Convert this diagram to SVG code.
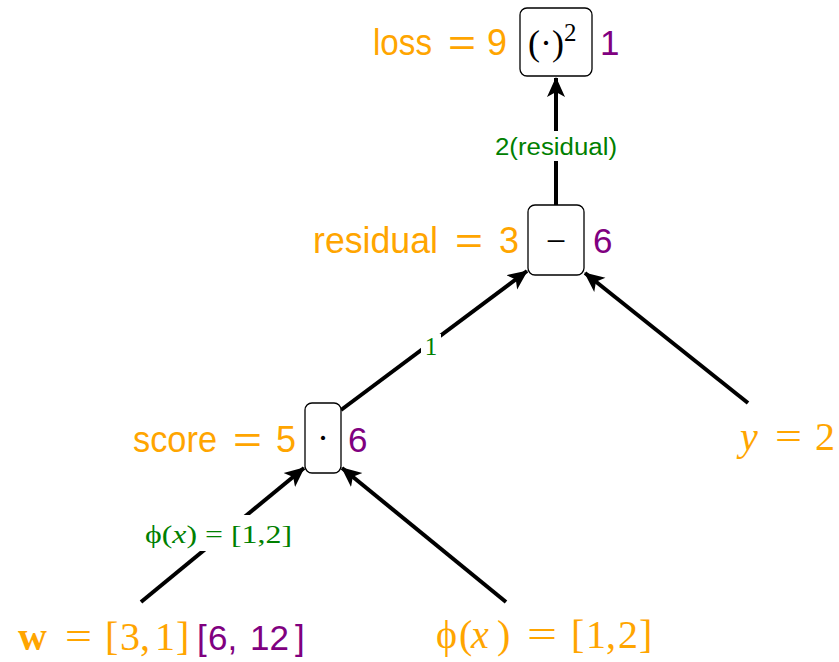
<svg xmlns="http://www.w3.org/2000/svg" width="839" height="662" viewBox="0 0 839 662">
<style>
.box{fill:#fff;stroke:#000;stroke-width:1.3}
.or{fill:#FFA500;font-family:"Liberation Sans","DejaVu Sans",sans-serif;font-size:36px}
.ors{fill:#FFA500;font-family:"Liberation Serif","DejaVu Serif",serif;font-size:40px}
.pu{fill:#800080;font-family:"Liberation Sans","DejaVu Sans",sans-serif;font-size:35px}
.op{fill:#000;font-family:"Liberation Serif","DejaVu Serif",serif;font-size:36px}
.gr{fill:#008000;font-family:"Liberation Sans","DejaVu Sans",sans-serif;font-size:23px}
.grs{fill:#008000;font-family:"Liberation Serif","DejaVu Serif",serif;font-size:25px}
.e{stroke:#000;stroke-width:4;fill:none;marker-end:url(#ah)}
</style>
<defs>
<marker id="ah" markerUnits="userSpaceOnUse" markerWidth="22" markerHeight="20" refX="19" refY="10" orient="auto">
<path d="M0,1 L20,10 L0,19 L5,10 Z" fill="#000"/>
</marker>
</defs>
<g id="edges">
<line class="e" x1="556" y1="205" x2="556" y2="78"/>
<rect x="493" y="131" width="127" height="30" fill="#fff"/>
<text class="gr" x="556" y="155" text-anchor="middle" textLength="122" lengthAdjust="spacingAndGlyphs">2(residual)</text>
<line class="e" x1="341" y1="410" x2="527" y2="271"/>
<rect x="421" y="334" width="20" height="26" fill="#fff"/>
<text class="grs" x="431" y="355" text-anchor="middle">1</text>
<line class="e" x1="748" y1="403" x2="585" y2="273"/>
<line class="e" x1="141" y1="602" x2="304" y2="468"/>
<rect x="143" y="515" width="152" height="36" fill="#fff"/>
<text class="grs" x="145" y="543" textLength="147" lengthAdjust="spacingAndGlyphs">ϕ(<tspan font-style="italic">x</tspan>) = [1,2]</text>
<line class="e" x1="506" y1="602" x2="342" y2="468"/>
</g>
<g id="loss">
<rect class="box" x="520" y="8" width="72" height="68" rx="7"/>
<text class="op" x="528" y="55">(·)<tspan font-size="25" dy="-14">2</tspan></text>
<text class="or" y="55"><tspan x="373" textLength="59" lengthAdjust="spacingAndGlyphs">loss</tspan><tspan x="448" textLength="28" lengthAdjust="spacingAndGlyphs">=</tspan><tspan x="487">9</tspan></text>
<text class="pu" x="600" y="55">1</text>
</g>
<g id="residual">
<rect class="box" x="528" y="205" width="56" height="70" rx="7"/>
<text class="op" x="556" y="253" text-anchor="middle">−</text>
<text class="or" y="253"><tspan x="313" textLength="125" lengthAdjust="spacingAndGlyphs">residual</tspan><tspan x="455" textLength="28" lengthAdjust="spacingAndGlyphs">=</tspan><tspan x="499">3</tspan></text>
<text class="pu" x="593" y="253">6</text>
</g>
<g id="score">
<rect class="box" x="305" y="403" width="36" height="70" rx="7"/>
<text class="op" x="323" y="450" text-anchor="middle">·</text>
<text class="or" y="452"><tspan x="133" textLength="84" lengthAdjust="spacingAndGlyphs">score</tspan><tspan x="233" textLength="29" lengthAdjust="spacingAndGlyphs">=</tspan><tspan x="276">5</tspan></text>
<text class="pu" x="348" y="452">6</text>
</g>
<g id="y">
<text class="ors" y="450"><tspan x="740" font-style="italic">y</tspan><tspan x="775" textLength="27" lengthAdjust="spacingAndGlyphs">=</tspan><tspan x="815">2</tspan></text>
</g>
<g id="w">
<text class="ors" y="650"><tspan x="18" font-weight="bold">w</tspan><tspan x="65" textLength="27" lengthAdjust="spacingAndGlyphs">=</tspan><tspan x="105">[</tspan><tspan x="120">3,</tspan><tspan x="155">1</tspan><tspan x="176">]</tspan></text>
<text class="pu" y="650"><tspan x="197">[</tspan><tspan x="208">6,</tspan><tspan x="250">12</tspan><tspan x="295">]</tspan></text>
</g>
<g id="phi">
<text class="ors" y="648"><tspan x="436">ϕ</tspan><tspan x="459">(</tspan><tspan x="471" font-style="italic">x</tspan><tspan x="497">)</tspan><tspan x="527" textLength="30" lengthAdjust="spacingAndGlyphs">=</tspan><tspan x="571">[</tspan><tspan x="586">1,</tspan><tspan x="618">2</tspan><tspan x="639">]</tspan></text>
</g>
</svg>
